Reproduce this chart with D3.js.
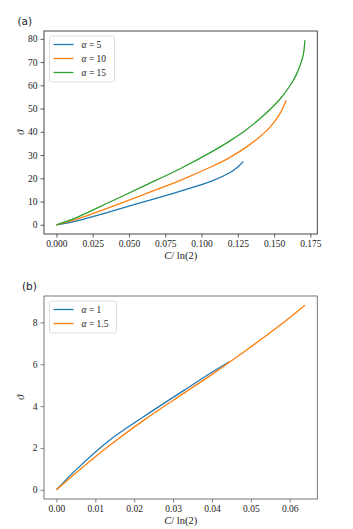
<!DOCTYPE html>
<html>
<head>
<meta charset="utf-8">
<script src="https://cdn.jsdelivr.net/npm/d3@7"></script>
<style>
  body { margin: 0; background: #fff; }
</style>
</head>
<body>
<div id="chart"></div>
<script>
// panel (a): C/ln(2) vs theta for three alphas
var aAlpha = ["5", "10", "15"];
var a5x = [0, 0.0142, 0.0372, 0.0600, 0.0849, 0.1078, 0.1193, 0.1250, 0.1288];
var a5y = [0, 1.7, 5.7, 9.8, 14.4, 19.0, 22.4, 24.9, 27.3];
var a10x = [0, 0.0142, 0.0372, 0.0600, 0.0849, 0.1078, 0.1193, 0.1308, 0.1400, 0.1469, 0.1538, 0.1584];
var a10y = [0, 2.4, 7.6, 13.0, 19.0, 25.3, 28.9, 33.4, 37.8, 41.8, 47.6, 53.6];
var a15x = [0, 0.0142, 0.0372, 0.0600, 0.0849, 0.1078, 0.1193, 0.1308, 0.1423, 0.1538, 0.1607, 0.1653, 0.1699, 0.1712];
var a15y = [0, 3.2, 9.9, 16.6, 24.0, 31.7, 36.0, 40.9, 46.8, 53.9, 59.6, 64.6, 72.6, 79.4];
var aXTicks = [0, 0.025, 0.05, 0.075, 0.1, 0.125, 0.15, 0.175];
var aYTicks = [0, 10, 20, 30, 40, 50, 60, 70, 80];

// panel (b)
var bAlpha = ["1", "1.5"];
var b1x = [0, 0.0053, 0.0139, 0.0225, 0.0328, 0.0403, 0.0445];
var b1y = [0, 1.0, 2.40, 3.50, 4.75, 5.65, 6.12];
var b15x = [0, 0.0053, 0.0139, 0.0225, 0.0328, 0.0403, 0.0489, 0.0575, 0.0639];
var b15y = [0, 0.85, 2.15, 3.33, 4.62, 5.55, 6.68, 7.86, 8.82];
var bXTicks = [0, 0.01, 0.02, 0.03, 0.04, 0.05, 0.06];
var bYTicks = [0, 2, 4, 6, 8];

var colors = ["#1f77b4", "#ff7f0e", "#2ca02c"];
var SERIF = "'Liberation Serif', 'DejaVu Serif', serif";

var W = 353, H = 529;
var svg = d3.select("#chart").append("svg")
  .attr("width", W).attr("height", H);

function zip(xs, ys) {
  return xs.map(function(x, i) { return [x, ys[i]]; });
}

function panel(opt) {
  var left = 44, right = 317.3, top = opt.top, bottom = opt.top + 203;
  var allX = [], allY = [];
  opt.series.forEach(function(s) { allX = allX.concat(s.map(d => d[0])); allY = allY.concat(s.map(d => d[1])); });
  var xmin = d3.min(allX), xmax = d3.max(allX), ymin = d3.min(allY), ymax = d3.max(allY);
  var px = (xmax - xmin) * 0.05, py = (ymax - ymin) * 0.05;
  var x = d3.scaleLinear().domain([xmin - px, xmax + px]).range([left, right]);
  var y = d3.scaleLinear().domain([ymin - py, ymax + py]).range([bottom, top]);

  var g = svg.append("g");

  var line = d3.line()
    .x(function(d) { return x(d[0]); })
    .y(function(d) { return y(d[1]); })
    .curve(d3.curveCatmullRom.alpha(0.5));

  g.selectAll("path.series")
    .data(opt.series)
    .enter().append("path")
    .attr("class", "series")
    .attr("d", line)
    .attr("fill", "none")
    .attr("stroke", function(d, i) { return colors[i]; })
    .attr("stroke-width", 1.3);

  var xAxis = g.append("g")
    .attr("transform", "translate(0," + bottom + ")")
    .call(d3.axisBottom(x).tickValues(opt.xTicks).tickFormat(d3.format(opt.xFmt)).tickSize(3.5).tickPadding(3));
  var yAxis = g.append("g")
    .attr("transform", "translate(" + left + ",0)")
    .call(d3.axisLeft(y).tickValues(opt.yTicks).tickFormat(d3.format("d")).tickSize(3.5).tickPadding(3));
  [xAxis, yAxis].forEach(function(ax) {
    ax.attr("font-family", SERIF).attr("font-size", 9.5);
    ax.select(".domain").remove();
    ax.selectAll("line").attr("stroke", opt.spine).attr("stroke-width", 0.8);
    ax.selectAll("text").attr("fill", "#222");
  });

  // frame
  g.append("rect")
    .attr("x", left).attr("y", top)
    .attr("width", right - left).attr("height", bottom - top)
    .attr("fill", "none").attr("stroke", opt.spine).attr("stroke-width", 0.9);

  // x label
  var xl = g.append("text")
    .attr("x", (left + right) / 2).attr("y", bottom + 25)
    .attr("text-anchor", "middle")
    .attr("font-family", SERIF).attr("font-size", 10.5).attr("fill", "#222");
  xl.append("tspan").attr("font-style", "italic").text("C");
  xl.append("tspan").text("/ ln(2)");

  // y label
  g.append("text")
    .attr("transform", "translate(" + 24 + "," + ((top + bottom) / 2) + ") rotate(-90)")
    .attr("text-anchor", "middle")
    .attr("font-family", SERIF).attr("font-size", 10.5).attr("font-style", "italic").attr("fill", "#222")
    .text("ϑ");

  // panel tag
  g.append("text")
    .attr("x", opt.tagX).attr("y", top - 6)
    .attr("font-family", "'DejaVu Sans', sans-serif").attr("font-size", 10.5)
    .attr("fill", "#222")
    .text(opt.tag);

  // legend
  var lx = 49.5, ly = top + 5, lw = opt.legendW, rowH = 14;
  var lh = opt.alphas.length * rowH + 4;
  g.append("rect")
    .attr("x", lx).attr("y", ly).attr("width", lw).attr("height", lh)
    .attr("rx", 2).attr("fill", "#fff").attr("fill-opacity", 0.8)
    .attr("stroke", "#d6d6d6").attr("stroke-width", 0.8);
  var rows = g.selectAll("g.leg").data(opt.alphas).enter().append("g")
    .attr("class", "leg")
    .attr("transform", function(d, i) { return "translate(" + lx + "," + (ly + 8.5 + i * rowH) + ")"; });
  rows.append("line")
    .attr("x1", 4).attr("x2", 24).attr("y1", 0).attr("y2", 0)
    .attr("stroke", function(d, i) { return colors[i]; }).attr("stroke-width", 1.3);
  var t = rows.append("text")
    .attr("x", 32).attr("y", 3.5)
    .attr("font-family", SERIF).attr("font-size", 9.5).attr("fill", "#222");
  t.append("tspan").attr("font-style", "italic").text("α");
  t.append("tspan").text(function(d) { return " = " + d; });
}

panel({
  top: 31, tag: "(a)", tagX: 17.5,
  series: [zip(a5x, a5y), zip(a10x, a10y), zip(a15x, a15y)],
  xTicks: aXTicks, yTicks: aYTicks, xFmt: ".3f",
  alphas: aAlpha, legendW: 65, spine: "#333"
});

panel({
  top: 296, tag: "(b)", tagX: 22,
  series: [zip(b1x, b1y), zip(b15x, b15y)],
  xTicks: bXTicks, yTicks: bYTicks, xFmt: ".2f",
  alphas: bAlpha, legendW: 67, spine: "#666"
});
</script>
</body>
</html>
